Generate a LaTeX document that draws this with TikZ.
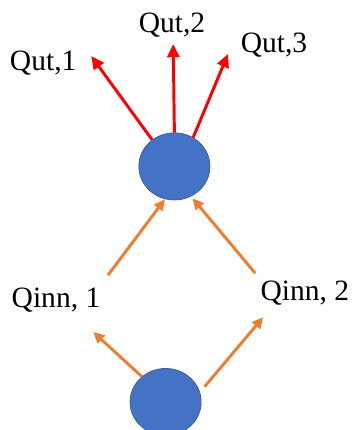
\documentclass[tikz,border=0pt]{standalone}
\usepackage{fontspec}
\setmainfont{Liberation Serif}
\usetikzlibrary{arrows.meta,shapes.geometric}
\definecolor{nodeblue}{RGB}{68,114,196}
\definecolor{nodeedge}{RGB}{47,82,143}
\definecolor{inorange}{RGB}{237,125,49}

\begin{document}
\begin{tikzpicture}[font=\fontsize{21}{25}\selectfont,
  junc/.style={ellipse, draw=nodeedge, line width=0.4pt, fill=nodeblue, minimum width=1.78cm, minimum height=1.68cm, inner sep=0pt},
  lbl/.style={inner sep=0pt},
  outarr/.style={-{Triangle[length=3.3mm, width=3mm]}, red, line width=2.1pt},
  inarr/.style={-{Triangle[length=2.8mm, width=2.6mm]}, inorange, line width=2.1pt}]
\useasboundingbox (0,0) rectangle (8.8,-10.75);
\clip (0,0) rectangle (8.8,-10.75);
% junctions
\node[junc] (top) at (4.36,-4.16) {};
\node[junc] (bot) at (4.14,-10.05) {};
% outflows
\node[lbl] (qut1) at (1.08,-1.58) {Qut,1};
\node[lbl] (qut2) at (4.3,-0.62) {Qut,2};
\node[lbl] (qut3) at (6.85,-1.12) {Qut,3};
\coordinate (o1) at (2.28,-1.4);
\coordinate (o2) at (4.33,-1.1);
\coordinate (o3) at (5.7,-1.35);
\draw[outarr] (top.130) -- (o1);
\draw[outarr] (top.north) -- (o2);
\draw[outarr] (top.57) -- (o3);
% inflows
\node[lbl] (qinn1) at (1.4,-7.5) {Qinn, 1};
\node[lbl] (qinn2) at (7.62,-7.32) {Qinn, 2};
\coordinate (i1) at (2.7,-6.88);
\coordinate (i2) at (6.38,-6.83);
\coordinate (b1) at (2.33,-8.3);
\coordinate (b2) at (6.58,-7.93);
\draw[inarr] (i1) -- (top.254);
\draw[inarr,shorten >=0.06cm] (i2) -- (top.299);
\draw[inarr] (bot.133) -- (b1);
\draw[inarr,shorten <=0.18cm] (bot.16) -- (b2);
\end{tikzpicture}
\end{document}
